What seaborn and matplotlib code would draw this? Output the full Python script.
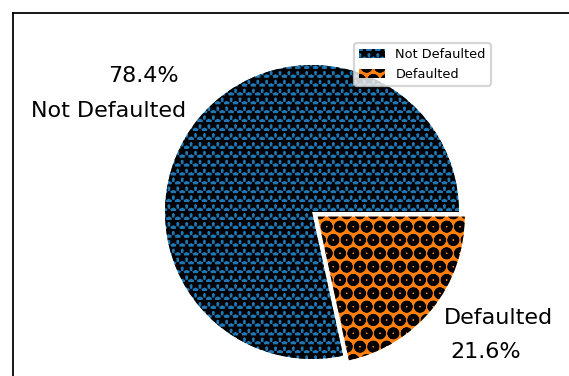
import matplotlib
matplotlib.use('Agg')
import matplotlib.pyplot as plt
import seaborn as sns

labels = ['Not Defaulted', 'Defaulted']
shares = [78.4, 21.6]
explode = [0, 0.05]
hatches = ['***', 'OOoo']

colors = sns.color_palette('tab10', 2)
plt.rcParams['hatch.linewidth'] = 1.2

W, H = 569, 376
dpi = 160
fig = plt.figure(figsize=(W / dpi, H / dpi), dpi=dpi)

# outer frame, only its top and left edges fall inside the picture
frame = fig.add_axes([13 / W, -0.2, 1.3, 1.2 - 13 / H])
frame.set_xticks([])
frame.set_yticks([])

# pie axes: centre (312, 212) px, radius 147 px
R, k = 147, 1.6
half = R * k
ax = fig.add_axes([(312 - half) / W, (H - 212 - half) / H, 2 * half / W, 2 * half / H])
ax.patch.set_visible(False)

wedges, texts, pcts = ax.pie(shares, labels=labels, explode=explode, colors=colors,
                             autopct='%1.1f%%', pctdistance=1.47, labeldistance=1.1,
                             textprops={'fontsize': 10})
for w, h in zip(wedges, hatches):
    w.set_hatch(h)

ax.set_xlim(-k, k)
ax.set_ylim(-k, k)
ax.set_aspect('equal')

ax.legend(wedges, labels, loc='upper right', bbox_to_anchor=(491 / W, 1 - 43 / H),
          bbox_transform=fig.transFigure, borderaxespad=0, fontsize=5.8)

fig.savefig('out.png', dpi=dpi)
